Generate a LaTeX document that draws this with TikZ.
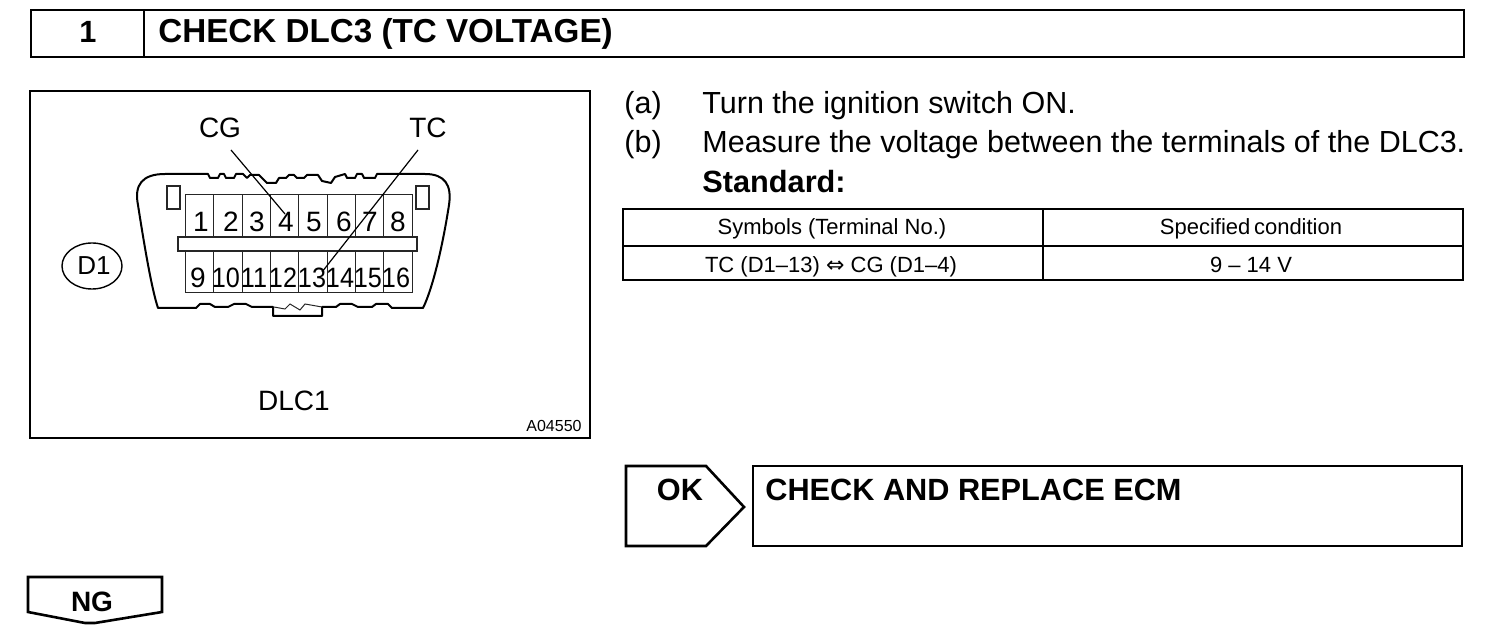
\documentclass[tikz,border=0pt]{standalone}
\usepackage{fontspec}
\setmainfont{Liberation Sans}
\newfontfamily\symf{DejaVu Sans}
\newfontfamily\narrowf[FakeStretch=0.9]{Liberation Sans}
\tikzset{
 x=0.5pt,y=-0.5pt,
 heavy/.style={draw=black,line width=1.3pt},
 cell/.style={draw=black!85,line width=0.5pt},
 lbl/.style={inner sep=0pt,anchor=base,font=\fontsize{14}{14}\selectfont},
 bodytext/.style={inner sep=0pt,anchor=base west,font=\fontsize{15.25}{15.25}\selectfont},
 head/.style={inner sep=0pt,anchor=base west,font=\fontsize{15.35}{15.35}\bfseries\selectfont},
 tabtext/.style={inner sep=0pt,anchor=base,font=\fontsize{11}{11}\selectfont},
 num/.style={inner sep=0pt,anchor=base,font=\fontsize{14}{14}\selectfont},
 numtwo/.style={inner sep=0pt,anchor=base,font=\fontsize{14}{14}\narrowf},
 leader/.style={draw=black,line width=0.6pt},
}
\begin{document}
\begin{tikzpicture}
\useasboundingbox (0,0) rectangle (1504,640);
% header
\draw[heavy] (31,10) rectangle (1464,57);
\draw[heavy] (144,10) -- (144,57);
\node[head,anchor=base] (n1) at (88,43) {1};
\node[head,font=\fontsize{16.6}{16.6}\bfseries\selectfont] (title) at (158,43) {CHECK DLC3 (TC VOLTAGE)};
% figure frame
\draw[heavy] (30,91) rectangle (590,438);
\node[lbl] (cg) at (220,138) {CG};
\node[lbl] (tc) at (428,138) {TC};
\node[lbl] (dlc1) at (294,411) {DLC1};
\node[inner sep=0pt,anchor=base,font=\fontsize{8}{8}\selectfont] (code) at (554,432) {A04550};
\draw[black,line width=0.7pt] (92,266) ellipse [x radius=30,y radius=23];
\node[lbl,font=\fontsize{13}{13}\selectfont] (d1) at (94,275) {D1};
% connector outline
\draw[black,line width=1pt,line join=round]
 (158,308) .. controls (152,290) and (145,250) .. (138,205)
 .. controls (134,185) and (142,174) .. (165,174)
 -- (208,174) -- (210,178) -- (218,178) -- (220,174) -- (224,174) -- (226,178) -- (234,178) -- (236,174) -- (243,174) -- (247,178)
 -- (250,175) -- (259,175) -- (267,183) -- (276,183) -- (279,178) -- (286,178) -- (289,175) -- (294,175) -- (297,178) -- (304,178) -- (307,175) -- (318,175) -- (322,181) -- (331,183) -- (335,177) -- (345,174) -- (347,178) -- (355,178) -- (357,174) -- (362,174) -- (364,178) -- (375,178) -- (377,174)
 -- (425,174) .. controls (445,174) and (452,185) .. (449,205)
 .. controls (442,250) and (432,290) .. (423,308)
 -- (392,308) -- (388,304) -- (376,304) -- (372,307) -- (358,307) -- (352,304) -- (340,304) -- (336,307)
 -- (322,307) -- (322,316) -- (273,316) -- (273,307) -- (252,307) -- (246,304) -- (234,304) -- (228,307) -- (215,307) -- (210,304) -- (200,304) -- (196,308) -- cycle;
\draw[cell] (274,307) -- (285,309) -- (290,304) -- (300,310) -- (305,304) -- (322,307);
% side tabs
\draw[cell,line width=0.6pt] (167,186) rectangle (180,209);
\draw[cell,line width=0.6pt] (416,186) rectangle (429,209);
% terminal cells
\foreach \a/\b in {185/213,213/242,242/270,270/298,298/327,327/355,355/383,383/412}{
  \draw[cell] (\a,195) rectangle (\b,237);
  \draw[cell] (\a,251) rectangle (\b,293);
}
\draw[cell,line width=0.6pt,fill=white] (178,237) rectangle (417,251);
\foreach \lab/\xx in {1/201,2/231,3/257,4/286,5/314,6/344,7/370,8/398}{
  \node[num] (t\lab) at (\xx,232) {\lab};
}
\node[num] (t9) at (198,288) {9};
\foreach \lab/\xx in {10/226,11/254,12/283,13/312,14/340,15/368,16/396}{
  \node[numtwo] (t\lab) at (\xx,288) {\lab};
}
% leaders
\coordinate (cgfoot) at (285,214);
\coordinate (tcfoot) at (322,272);
\coordinate (cgtop) at (231,150);
\coordinate (tctop) at (418,150);
\draw[leader] (cgtop) -- (cgfoot);
\draw[leader] (tctop) -- (tcfoot);
% steps
\node[bodytext] (a) at (624,114) {(a)};
\node[bodytext] (at) at (702,114) {Turn the ignition switch ON.};
\node[bodytext] (b) at (624,153) {(b)};
\node[bodytext] (bt) at (702,153) {Measure the voltage between the terminals of the DLC3.};
\node[head] (std) at (702,193) {Standard:};
% table
\draw[heavy,line width=1pt] (623,209) rectangle (1463,280);
\draw[heavy,line width=1pt] (623,246) -- (1463,246);
\draw[heavy,line width=1pt] (1043,209) -- (1043,280);
\node[tabtext] (h1) at (832,235) {Symbols (Terminal No.)};
\node[tabtext] (h2) at (1251,235) {Specified\,condition};
\node[tabtext] (c1) at (831,273) {TC (D1–13) {\symf ⇔} CG (D1–4)};
\node[tabtext] (c2) at (1251,273) {9 – 14 V};
% OK
\draw[heavy,line join=miter] (626,466) -- (706,466) -- (744,507) -- (706,546) -- (626,546) -- cycle;
\node[head,anchor=base] (ok) at (680,501) {OK};
\draw[heavy] (753,466) rectangle (1462,546);
\node[head] (ecm) at (765,501) {CHECK AND REPLACE ECM};
% NG
\draw[heavy,line join=miter] (28,577) -- (162,577) -- (162,612) -- (95,623) -- (85,623) -- (28,612) -- cycle;
\node[head,anchor=base,font=\fontsize{14}{14}\bfseries\selectfont] (ng) at (92,611) {NG};
\end{tikzpicture}
\end{document}
